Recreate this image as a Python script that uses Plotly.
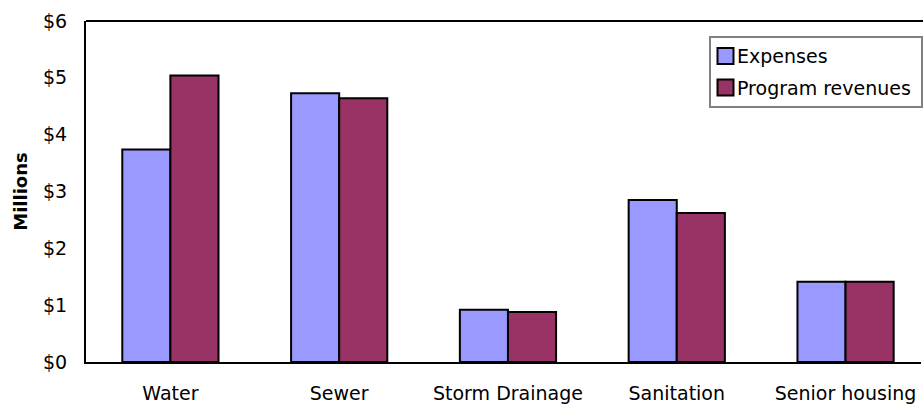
import plotly.graph_objects as go

# Enterprise funds, in millions of dollars
categories = ["Water", "Sewer", "Storm Drainage", "Sanitation", "Senior housing"]
expenses = [3.74, 4.73, 0.92, 2.85, 1.41]
program_revenues = [5.04, 4.64, 0.88, 2.62, 1.41]
y_ticks = [0, 1, 2, 3, 4, 5, 6]
series_names = ["Expenses", "Program revenues"]
series_colors = ["#9999FF", "#993366"]

FONT = "DejaVu Sans, Liberation Sans, Arial, sans-serif"
W, H = 923, 405
M_L, M_R, M_T, M_B = 86, 2, 21, 43

fig = go.Figure()
for name, vals, color in zip(series_names, [expenses, program_revenues], series_colors):
    fig.add_trace(go.Bar(
        name=name, x=categories, y=vals,
        marker=dict(color=color, line=dict(color="black", width=2)),
    ))

fig.update_layout(
    width=W, height=H,
    margin=dict(l=M_L, r=M_R, t=M_T, b=M_B),
    paper_bgcolor="white", plot_bgcolor="white",
    barmode="group", bargap=0.43, bargroupgap=0,
    font=dict(family=FONT, size=19, color="black"),
    showlegend=False,
)

fig.update_xaxes(
    range=[-0.5, 4.447],
    showline=True, linecolor="black", linewidth=2,
    ticks="", showgrid=False, tickfont=dict(size=19), ticklabelstandoff=13,
)
fig.update_yaxes(
    range=[0, 6], tickvals=y_ticks, tickformat="$.0f",
    showline=True, linecolor="black", linewidth=2,
    ticks="", showgrid=False, zeroline=False,
    tickfont=dict(size=19), ticklabelstandoff=13,
    title=dict(text="<b>Millions</b>", font=dict(size=18), standoff=11),
)

# top border of the plotting frame
fig.add_shape(type="line", xref="paper", yref="paper", x0=0, x1=1.003, y0=1, y1=1,
              line=dict(color="black", width=2))

# legend box drawn in pixel terms, converted to paper coordinates
plot_w = W - M_L - M_R
plot_h = H - M_T - M_B


def px(x):
    return (x - M_L) / plot_w


def py(y):
    return 1 - (y - M_T) / plot_h


fig.add_shape(type="rect", xref="paper", yref="paper",
              x0=px(710), x1=px(922), y0=py(37), y1=py(107),
              line=dict(color="#808080", width=2), fillcolor="white", layer="above")
for i, (name, color) in enumerate(zip(series_names, series_colors)):
    cy = 56 + i * 31.5
    fig.add_shape(type="rect", xref="paper", yref="paper",
                  x0=px(717.5), x1=px(733.5), y0=py(cy - 8), y1=py(cy + 8),
                  line=dict(color="black", width=2), fillcolor=color, layer="above")
    fig.add_annotation(xref="paper", yref="paper", x=px(735), y=py(cy),
                       xanchor="left", yanchor="middle", showarrow=False,
                       text=name, font=dict(size=19))

fig.write_html("out.html")
